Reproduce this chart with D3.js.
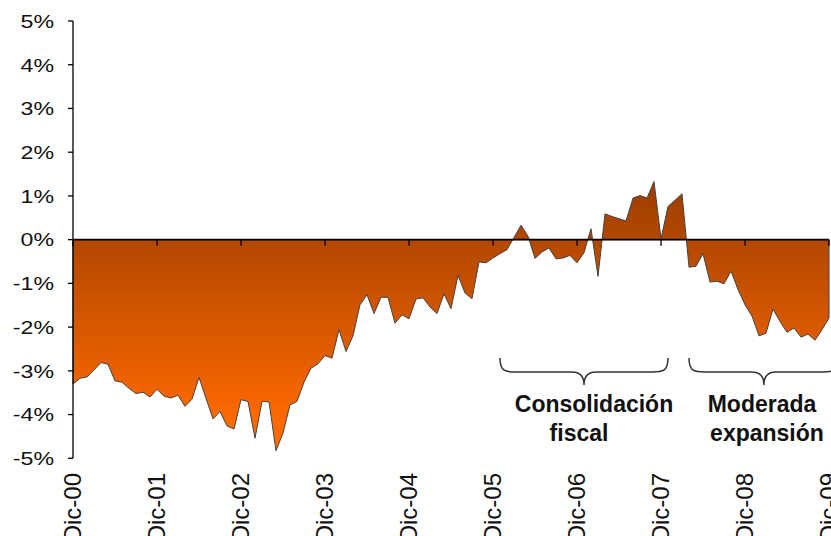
<!DOCTYPE html>
<html>
<head>
<meta charset="utf-8">
<script src="https://cdn.jsdelivr.net/npm/d3@7"></script>
<style>
  html, body { margin: 0; padding: 0; background: #fff; }
  svg { display: block; font-family: "Liberation Sans", Arial, sans-serif; }
</style>
</head>
<body>
<svg id="chart" width="831" height="536"></svg>
<script>
// monthly balance, % — Dic-00 .. Dic-09
var values = [
  -3.30, -3.17, -3.14, -2.98, -2.81, -2.85, -3.23, -3.26, -3.40, -3.52, -3.49, -3.60,
  -3.42, -3.58, -3.62, -3.56, -3.81, -3.65, -3.15, -3.63, -4.10, -3.93, -4.26, -4.33,
  -3.66, -3.70, -4.54, -3.70, -3.71, -4.83, -4.42, -3.78, -3.70, -3.26, -2.94, -2.84,
  -2.65, -2.71, -2.06, -2.56, -2.20, -1.49, -1.26, -1.69, -1.32, -1.32, -1.91, -1.72,
  -1.81, -1.36, -1.33, -1.54, -1.69, -1.24, -1.58, -0.82, -1.22, -1.35, -0.51, -0.53,
  -0.42, -0.32, -0.23, 0.05, 0.33, 0.08, -0.43, -0.28, -0.19, -0.44, -0.42, -0.36,
  -0.53, -0.30, 0.25, -0.84, 0.59, 0.53, 0.48, 0.43, 0.95, 1.01, 0.95, 1.33,
  0.02, 0.76, 0.90, 1.05, -0.63, -0.61, -0.32, -0.97, -0.95, -1.01, -0.72, -1.14,
  -1.49, -1.75, -2.20, -2.14, -1.59, -1.87, -2.12, -2.02, -2.23, -2.16, -2.30, -2.06,
  -1.79
];
var yearLabels = ['Dic-00', 'Dic-01', 'Dic-02', 'Dic-03', 'Dic-04',
                  'Dic-05', 'Dic-06', 'Dic-07', 'Dic-08', 'Dic-09'];
var yTicks = [5, 4, 3, 2, 1, 0, -1, -2, -3, -4, -5];
// brace spans in month index, with their two-line captions
var periods = [
  {from: 61, to: 85, lines: ['Consolidación', 'fiscal']},
  {from: 88, to: 109.4, lines: ['Moderada', 'expansión']}
];

var svg = d3.select('#chart'),
    left = 73, right = 829,
    x = d3.scaleLinear().domain([0, values.length - 1]).range([left, right]),
    y = d3.scaleLinear().domain([-5, 5]).range([458.3, 21]);

// gradient: dark brown near the top, bright orange at the bottom
var grad = svg.append('defs').append('linearGradient')
  .attr('id', 'fillGrad')
  .attr('gradientUnits', 'userSpaceOnUse')
  .attr('x1', 0).attr('x2', 0)
  .attr('y1', y(1.4)).attr('y2', y(-4.2));
grad.append('stop').attr('offset', 0).attr('stop-color', '#9a3c00');
grad.append('stop').attr('offset', 1).attr('stop-color', '#ff6a00');

var area = d3.area()
  .x(function (d, i) { return x(i); })
  .y0(y(0))
  .y1(function (d) { return y(d); });

svg.append('path')
  .datum(values)
  .attr('d', area)
  .attr('fill', 'url(#fillGrad)')
  .attr('stroke', '#444')
  .attr('stroke-width', 1)
  .attr('stroke-linejoin', 'round');

// y axis
var yAxis = svg.append('g');
yAxis.append('line')
  .attr('x1', left).attr('x2', left)
  .attr('y1', y(5)).attr('y2', y(-5))
  .attr('stroke', '#000').attr('stroke-width', 1.3);
yAxis.selectAll('line.tick').data(yTicks).enter().append('line')
  .classed('tick', true)
  .attr('x1', left - 5).attr('x2', left)
  .attr('y1', function (d) { return y(d); })
  .attr('y2', function (d) { return y(d); })
  .attr('stroke', '#000').attr('stroke-width', 1.3);
yAxis.selectAll('text').data(yTicks).enter().append('text')
  .attr('transform', function (d) {
    return 'translate(54,' + (y(d) + 6.8) + ') scale(1.22,1)';
  })
  .attr('text-anchor', 'end')
  .attr('font-size', '19px')
  .attr('fill', '#111')
  .text(function (d) { return d + '%'; });

// x axis on the zero line
var yearIdx = yearLabels.map(function (d, i) { return i * 12; });
var xAxis = svg.append('g');
xAxis.append('line')
  .attr('x1', left).attr('x2', right)
  .attr('y1', y(0)).attr('y2', y(0))
  .attr('stroke', '#000').attr('stroke-width', 1.6);
xAxis.selectAll('line.tick').data(yearIdx).enter().append('line')
  .classed('tick', true)
  .attr('x1', function (d) { return x(d); })
  .attr('x2', function (d) { return x(d); })
  .attr('y1', y(0)).attr('y2', y(0) + 6)
  .attr('stroke', '#000').attr('stroke-width', 1.3);
// labels run off the bottom edge, as in the original
xAxis.selectAll('text').data(yearLabels).enter().append('text')
  .attr('transform', function (d, i) {
    return 'translate(' + (x(yearIdx[i]) + 8) + ',473) rotate(-90)';
  })
  .attr('text-anchor', 'end')
  .attr('font-size', '24px')
  .attr('fill', '#111')
  .text(function (d) { return d; });

// braces + captions
function bracePath(x0, x1, top) {
  var mid = (x0 + x1) / 2,
      flat = top + 14,
      tip = top + 27;
  return 'M' + x0 + ',' + top +
    ' C' + x0 + ',' + (flat - 1) + ' ' + (x0 + 5) + ',' + flat + ' ' + (x0 + 16) + ',' + flat +
    ' L' + (mid - 12) + ',' + flat +
    ' C' + (mid - 4) + ',' + flat + ' ' + mid + ',' + (flat + 4) + ' ' + mid + ',' + tip +
    ' C' + mid + ',' + (flat + 4) + ' ' + (mid + 4) + ',' + flat + ' ' + (mid + 12) + ',' + flat +
    ' L' + (x1 - 16) + ',' + flat +
    ' C' + (x1 - 5) + ',' + flat + ' ' + x1 + ',' + (flat - 1) + ' ' + x1 + ',' + top;
}

var capX = [[594, 579], [762, 767]];
periods.forEach(function (p, k) {
  var x0 = x(p.from), x1 = x(p.to);
  svg.append('path')
    .attr('d', bracePath(x0, x1, 358))
    .attr('fill', 'none')
    .attr('stroke', '#333')
    .attr('stroke-width', 1.5);
  p.lines.forEach(function (line, j) {
    svg.append('text')
      .attr('x', capX[k][j])
      .attr('y', 412 + j * 28.5)
      .attr('text-anchor', 'middle')
      .attr('font-size', '23px')
      .attr('font-weight', 'bold')
      .attr('fill', '#111')
      .text(line);
  });
});
</script>
</body>
</html>
